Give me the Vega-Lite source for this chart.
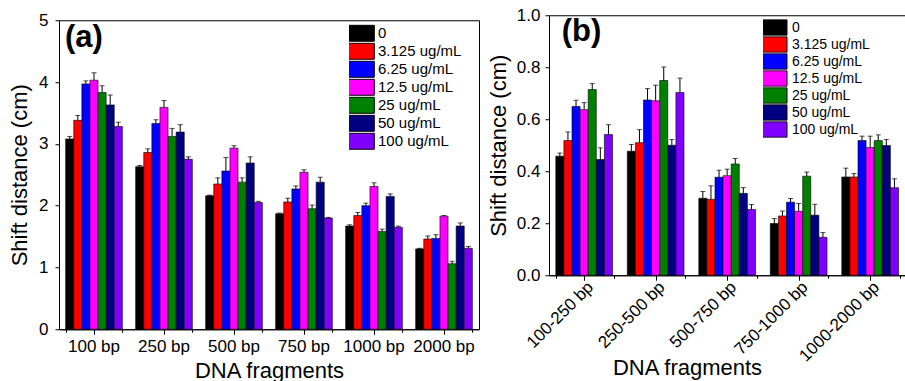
{
"$schema": "https://vega.github.io/schema/vega-lite/v6.json",
"padding": {"left": 8, "top": 5, "right": 0, "bottom": 0},
"config": {
  "font": "Liberation Sans",
  "view": {"stroke": "black", "strokeWidth": 1},
  "axis": {"grid": false, "domainColor": "black", "tickColor": "black", "labelColor": "black", "titleColor": "black", "labelFont": "Liberation Sans", "titleFont": "Liberation Sans", "titleFontWeight": "normal", "domainWidth": 1, "tickWidth": 1},
  "legend": {"labelFont": "Liberation Sans", "labelColor": "black"}
},
"datasets": {
  "a": [
    {"f": "100 bp", "c": "0", "v": 3.08, "hi": 3.12},
    {"f": "100 bp", "c": "3.125 ug/mL", "v": 3.38, "hi": 3.46},
    {"f": "100 bp", "c": "6.25 ug/mL", "v": 3.97, "hi": 4.02},
    {"f": "100 bp", "c": "12.5 ug/mL", "v": 4.03, "hi": 4.15},
    {"f": "100 bp", "c": "25 ug/mL", "v": 3.83, "hi": 3.94},
    {"f": "100 bp", "c": "50 ug/mL", "v": 3.63, "hi": 3.79},
    {"f": "100 bp", "c": "100 ug/mL", "v": 3.28, "hi": 3.35},
    {"f": "250 bp", "c": "0", "v": 2.63, "hi": 2.65},
    {"f": "250 bp", "c": "3.125 ug/mL", "v": 2.86, "hi": 2.92},
    {"f": "250 bp", "c": "6.25 ug/mL", "v": 3.33, "hi": 3.39},
    {"f": "250 bp", "c": "12.5 ug/mL", "v": 3.59, "hi": 3.70},
    {"f": "250 bp", "c": "25 ug/mL", "v": 3.12, "hi": 3.25},
    {"f": "250 bp", "c": "50 ug/mL", "v": 3.19, "hi": 3.31},
    {"f": "250 bp", "c": "100 ug/mL", "v": 2.75, "hi": 2.79},
    {"f": "500 bp", "c": "0", "v": 2.16, "hi": 2.17},
    {"f": "500 bp", "c": "3.125 ug/mL", "v": 2.35, "hi": 2.45},
    {"f": "500 bp", "c": "6.25 ug/mL", "v": 2.56, "hi": 2.78},
    {"f": "500 bp", "c": "12.5 ug/mL", "v": 2.93, "hi": 2.97},
    {"f": "500 bp", "c": "25 ug/mL", "v": 2.38, "hi": 2.45},
    {"f": "500 bp", "c": "50 ug/mL", "v": 2.69, "hi": 2.79},
    {"f": "500 bp", "c": "100 ug/mL", "v": 2.05, "hi": 2.07},
    {"f": "750 bp", "c": "0", "v": 1.87, "hi": 1.88},
    {"f": "750 bp", "c": "3.125 ug/mL", "v": 2.06, "hi": 2.12},
    {"f": "750 bp", "c": "6.25 ug/mL", "v": 2.27, "hi": 2.32},
    {"f": "750 bp", "c": "12.5 ug/mL", "v": 2.54, "hi": 2.58},
    {"f": "750 bp", "c": "25 ug/mL", "v": 1.95, "hi": 2.01},
    {"f": "750 bp", "c": "50 ug/mL", "v": 2.38, "hi": 2.46},
    {"f": "750 bp", "c": "100 ug/mL", "v": 1.80, "hi": 1.81},
    {"f": "1000 bp", "c": "0", "v": 1.67, "hi": 1.69},
    {"f": "1000 bp", "c": "3.125 ug/mL", "v": 1.84, "hi": 1.89},
    {"f": "1000 bp", "c": "6.25 ug/mL", "v": 2.00, "hi": 2.04},
    {"f": "1000 bp", "c": "12.5 ug/mL", "v": 2.31, "hi": 2.37},
    {"f": "1000 bp", "c": "25 ug/mL", "v": 1.58, "hi": 1.62},
    {"f": "1000 bp", "c": "50 ug/mL", "v": 2.15, "hi": 2.19},
    {"f": "1000 bp", "c": "100 ug/mL", "v": 1.65, "hi": 1.67},
    {"f": "2000 bp", "c": "0", "v": 1.30, "hi": 1.31},
    {"f": "2000 bp", "c": "3.125 ug/mL", "v": 1.46, "hi": 1.51},
    {"f": "2000 bp", "c": "6.25 ug/mL", "v": 1.47, "hi": 1.53},
    {"f": "2000 bp", "c": "12.5 ug/mL", "v": 1.83, "hi": 1.84},
    {"f": "2000 bp", "c": "25 ug/mL", "v": 1.06, "hi": 1.10},
    {"f": "2000 bp", "c": "50 ug/mL", "v": 1.67, "hi": 1.72},
    {"f": "2000 bp", "c": "100 ug/mL", "v": 1.31, "hi": 1.34}
  ],
  "b": [
    {"f": "100-250 bp", "c": "0", "v": 0.458, "hi": 0.47},
    {"f": "100-250 bp", "c": "3.125 ug/mL", "v": 0.518, "hi": 0.551},
    {"f": "100-250 bp", "c": "6.25 ug/mL", "v": 0.649, "hi": 0.673},
    {"f": "100-250 bp", "c": "12.5 ug/mL", "v": 0.637, "hi": 0.664},
    {"f": "100-250 bp", "c": "25 ug/mL", "v": 0.714, "hi": 0.737},
    {"f": "100-250 bp", "c": "50 ug/mL", "v": 0.445, "hi": 0.49},
    {"f": "100-250 bp", "c": "100 ug/mL", "v": 0.541, "hi": 0.579},
    {"f": "250-500 bp", "c": "0", "v": 0.477, "hi": 0.503},
    {"f": "250-500 bp", "c": "3.125 ug/mL", "v": 0.51, "hi": 0.56},
    {"f": "250-500 bp", "c": "6.25 ug/mL", "v": 0.674, "hi": 0.718},
    {"f": "250-500 bp", "c": "12.5 ug/mL", "v": 0.671, "hi": 0.731},
    {"f": "250-500 bp", "c": "25 ug/mL", "v": 0.749, "hi": 0.801},
    {"f": "250-500 bp", "c": "50 ug/mL", "v": 0.50, "hi": 0.522},
    {"f": "250-500 bp", "c": "100 ug/mL", "v": 0.703, "hi": 0.758},
    {"f": "500-750 bp", "c": "0", "v": 0.296, "hi": 0.322},
    {"f": "500-750 bp", "c": "3.125 ug/mL", "v": 0.292, "hi": 0.344},
    {"f": "500-750 bp", "c": "6.25 ug/mL", "v": 0.377, "hi": 0.404},
    {"f": "500-750 bp", "c": "12.5 ug/mL", "v": 0.383, "hi": 0.408},
    {"f": "500-750 bp", "c": "25 ug/mL", "v": 0.428, "hi": 0.449},
    {"f": "500-750 bp", "c": "50 ug/mL", "v": 0.315, "hi": 0.337},
    {"f": "500-750 bp", "c": "100 ug/mL", "v": 0.253, "hi": 0.272},
    {"f": "750-1000 bp", "c": "0", "v": 0.199, "hi": 0.218},
    {"f": "750-1000 bp", "c": "3.125 ug/mL", "v": 0.228, "hi": 0.247},
    {"f": "750-1000 bp", "c": "6.25 ug/mL", "v": 0.281, "hi": 0.295},
    {"f": "750-1000 bp", "c": "12.5 ug/mL", "v": 0.246, "hi": 0.276},
    {"f": "750-1000 bp", "c": "25 ug/mL", "v": 0.381, "hi": 0.397},
    {"f": "750-1000 bp", "c": "50 ug/mL", "v": 0.231, "hi": 0.273},
    {"f": "750-1000 bp", "c": "100 ug/mL", "v": 0.146, "hi": 0.164},
    {"f": "1000-2000 bp", "c": "0", "v": 0.378, "hi": 0.412},
    {"f": "1000-2000 bp", "c": "3.125 ug/mL", "v": 0.378, "hi": 0.391},
    {"f": "1000-2000 bp", "c": "6.25 ug/mL", "v": 0.518, "hi": 0.535},
    {"f": "1000-2000 bp", "c": "12.5 ug/mL", "v": 0.491, "hi": 0.535},
    {"f": "1000-2000 bp", "c": "25 ug/mL", "v": 0.518, "hi": 0.54},
    {"f": "1000-2000 bp", "c": "50 ug/mL", "v": 0.499, "hi": 0.522},
    {"f": "1000-2000 bp", "c": "100 ug/mL", "v": 0.337, "hi": 0.371}
  ]
},
"center": true,
"hconcat": [
  {
    "width": 420, "height": 309,
    "data": {"name": "a"},
    "layer": [
      {
        "mark": {"type": "bar", "stroke": "black", "strokeWidth": 0.6},
        "encoding": {
          "x": {"field": "f", "type": "nominal", "sort": ["100 bp", "250 bp", "500 bp", "750 bp", "1000 bp", "2000 bp"],
                "scale": {"paddingInner": 0.19, "paddingOuter": 0.095},
                "axis": {"title": "DNA fragments", "labelAngle": 0, "labelFontSize": 17, "titleFontSize": 22, "tickSize": 5, "labelPadding": 4, "titlePadding": 6}},
          "xOffset": {"field": "c", "type": "nominal", "scale": {"domain": ["0", "3.125 ug/mL", "6.25 ug/mL", "12.5 ug/mL", "25 ug/mL", "50 ug/mL", "100 ug/mL"], "paddingInner": 0, "paddingOuter": 0}},
          "y": {"field": "v", "type": "quantitative", "title": "Shift distance (cm)", "scale": {"domain": [0, 5], "nice": false},
                "axis": {"values": [0, 0.5, 1, 1.5, 2, 2.5, 3, 3.5, 4, 4.5, 5], "format": ".0f", "labelExpr": "datum.value % 1 === 0 ? datum.label : ''", "tickSize": {"condition": {"test": "datum.value % 1 === 0", "value": 4}, "value": 2}, "labelFontSize": 17, "titleFontSize": 22, "labelPadding": 7, "titlePadding": 7}},
          "color": {"field": "c", "type": "nominal",
                    "scale": {"domain": ["0", "3.125 ug/mL", "6.25 ug/mL", "12.5 ug/mL", "25 ug/mL", "50 ug/mL", "100 ug/mL"], "range": ["#000000", "#ff0000", "#0000ff", "#ff00ff", "#008000", "#000080", "#8000ff"]},
                    "legend": {"orient": "none", "legendX": 290, "legendY": 4, "title": null, "labelFontSize": 15, "symbolType": "M-2.1,-1H2.1V1H-2.1Z", "symbolSize": 256, "symbolStrokeColor": "black", "symbolStrokeWidth": 1, "symbolOpacity": 1, "rowPadding": 0, "clipHeight": 18, "labelOffset": 12}}
        }
      },
      {
        "mark": {"type": "rule", "color": "black", "strokeWidth": 1},
        "encoding": {
          "x": {"field": "f", "type": "nominal", "sort": ["100 bp", "250 bp", "500 bp", "750 bp", "1000 bp", "2000 bp"],
                "axis": {"orient": "bottom", "tickBand": "extent", "labels": false, "domain": false, "title": null, "tickSize": 3}},
          "xOffset": {"field": "c", "type": "nominal"},
          "y": {"field": "v", "type": "quantitative", "title": "Shift distance (cm)"},
          "y2": {"field": "hi"}
        }
      },
      {
        "mark": {"type": "tick", "color": "black", "thickness": 1, "size": 5},
        "encoding": {
          "x": {"field": "f", "type": "nominal", "sort": ["100 bp", "250 bp", "500 bp", "750 bp", "1000 bp", "2000 bp"], "axis": null},
          "xOffset": {"field": "c", "type": "nominal"},
          "y": {"field": "hi", "type": "quantitative", "title": "Shift distance (cm)"}
        }
      },
      {
        "data": {"values": [{"t": "(a)"}]},
        "mark": {"type": "text", "fontSize": 31, "fontWeight": "bold", "align": "left", "baseline": "middle", "dx": -29, "color": "black"},
        "encoding": {
          "x": {"datum": "100 bp", "type": "nominal", "axis": null},
          "y": {"datum": 4.72, "type": "quantitative", "title": "Shift distance (cm)"},
          "text": {"field": "t"}
        }
      }
    ],
    "resolve": {"axis": {"x": "independent"}}
  },
  {
    "width": 357.5, "height": 260,
    "title": {"text": ".", "orient": "bottom", "anchor": "end", "fontSize": 8, "offset": 0, "color": "#ffffff"},
    "data": {"name": "b"},
    "layer": [
      {
        "mark": {"type": "bar", "stroke": "black", "strokeWidth": 0.6},
        "encoding": {
          "x": {"field": "f", "type": "nominal", "sort": ["100-250 bp", "250-500 bp", "500-750 bp", "750-1000 bp", "1000-2000 bp"],
                "scale": {"paddingInner": 0.19, "paddingOuter": 0.095},
                "axis": {"title": "DNA fragments", "labelAngle": -45, "labelAlign": "right", "labelBaseline": "middle", "labelFontSize": 17, "titleFontSize": 22, "tickSize": 5, "labelPadding": 4, "labelOffset": 6, "titleX": 138, "titleY": 82, "titleBaseline": "top"}},
          "xOffset": {"field": "c", "type": "nominal", "scale": {"domain": ["0", "3.125 ug/mL", "6.25 ug/mL", "12.5 ug/mL", "25 ug/mL", "50 ug/mL", "100 ug/mL"], "paddingInner": 0, "paddingOuter": 0}},
          "y": {"field": "v", "type": "quantitative", "title": "Shift distance (cm)", "scale": {"domain": [0, 1], "nice": false},
                "axis": {"values": [0, 0.1, 0.2, 0.3, 0.4, 0.5, 0.6, 0.7, 0.8, 0.9, 1.0], "format": ".1f", "labelExpr": "round(datum.value * 10) % 2 === 0 ? datum.label : ''", "tickSize": {"condition": {"test": "round(datum.value * 10) % 2 === 0", "value": 4}, "value": 2}, "labelFontSize": 17, "titleFontSize": 22, "labelPadding": 5, "titlePadding": 6}},
          "color": {"field": "c", "type": "nominal",
                    "scale": {"domain": ["0", "3.125 ug/mL", "6.25 ug/mL", "12.5 ug/mL", "25 ug/mL", "50 ug/mL", "100 ug/mL"], "range": ["#000000", "#ff0000", "#0000ff", "#ff00ff", "#008000", "#000080", "#8000ff"]},
                    "legend": {"orient": "none", "legendX": 214, "legendY": 4, "title": null, "labelFontSize": 14, "symbolType": "M-2,-1H2V1H-2Z", "symbolSize": 240, "symbolStrokeColor": "black", "symbolStrokeWidth": 1, "symbolOpacity": 1, "rowPadding": 0, "clipHeight": 16.5, "labelOffset": 12}}
        }
      },
      {
        "mark": {"type": "rule", "color": "black", "strokeWidth": 1},
        "encoding": {
          "x": {"field": "f", "type": "nominal", "sort": ["100-250 bp", "250-500 bp", "500-750 bp", "750-1000 bp", "1000-2000 bp"],
                "axis": {"orient": "bottom", "tickBand": "extent", "labels": false, "domain": false, "title": null, "tickSize": 3}},
          "xOffset": {"field": "c", "type": "nominal"},
          "y": {"field": "v", "type": "quantitative", "title": "Shift distance (cm)"},
          "y2": {"field": "hi"}
        }
      },
      {
        "mark": {"type": "tick", "color": "black", "thickness": 1, "size": 5},
        "encoding": {
          "x": {"field": "f", "type": "nominal", "sort": ["100-250 bp", "250-500 bp", "500-750 bp", "750-1000 bp", "1000-2000 bp"], "axis": null},
          "xOffset": {"field": "c", "type": "nominal"},
          "y": {"field": "hi", "type": "quantitative", "title": "Shift distance (cm)"}
        }
      },
      {
        "data": {"values": [{"t": "(b)"}]},
        "mark": {"type": "text", "fontSize": 31, "fontWeight": "bold", "align": "left", "baseline": "middle", "dx": -23, "color": "black"},
        "encoding": {
          "x": {"datum": "100-250 bp", "type": "nominal", "axis": null},
          "y": {"datum": 0.935, "type": "quantitative", "title": "Shift distance (cm)"},
          "text": {"field": "t"}
        }
      }
    ],
    "resolve": {"axis": {"x": "independent"}}
  }
],
"spacing": 6,
"resolve": {"scale": {"color": "independent"}, "legend": {"color": "independent"}}
}
